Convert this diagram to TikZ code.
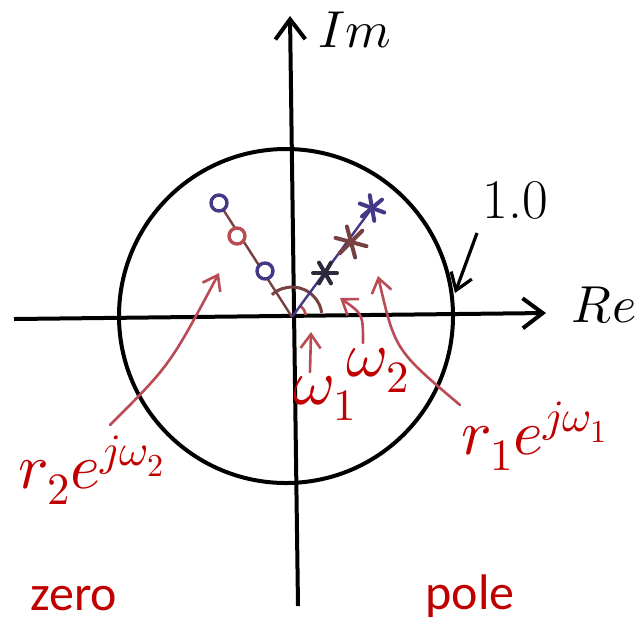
\documentclass[tikz,border=0pt]{standalone}
\usepackage{unicode-math}
\newfontfamily\labelfont{Carlito}
\usepackage{tikz}
\usetikzlibrary{arrows.meta,calc}

\definecolor{labelred}{RGB}{192,0,0}
\definecolor{penred}{RGB}{185,75,85}
\definecolor{penblue}{RGB}{70,55,135}
\definecolor{penbrown}{RGB}{120,65,65}
\definecolor{pendark}{RGB}{45,40,60}

% asterisk-like pole mark: centre, half size, colour, angles
\newcommand{\polestar}[4]{%
  \foreach \a in {#4}
    \draw[#3, line width=2pt, line cap=round] ($(#1)+(\a:#2)$) -- ($(#1)+(\a+180:#2)$);}

\begin{document}
\begin{tikzpicture}[x=0.5pt, y=-0.5pt, >={Straight Barb[length=10pt,width=15pt]},
  axis/.style={line width=2pt, ->},
  pointer/.style={line width=1.3pt, penred, line cap=round, -{Straight Barb[length=7pt,width=10pt]}},
  bigtext/.style={font=\fontsize{26}{30}\selectfont},
  redlabel/.style={text=labelred, inner sep=1pt, font=\fontsize{32}{36}\selectfont},
  wordlabel/.style={text=labelred, inner sep=1pt, font=\labelfont\fontsize{25}{30}\selectfont},
  zeromark/.style={circle, draw, line width=1.7pt, inner sep=0pt, minimum size=8pt, fill=white}]
\useasboundingbox (0,0) rectangle (635,623);
\coordinate (O) at (292,317);
\coordinate (C) at (286,316);
% axes and unit circle
\draw[axis] (14,319) -- (546,313);
\draw[axis] (298,606) -- (290,16);
\draw[line width=2pt] (C) circle [radius=83.5pt];
\node[bigtext] (im) at (355,30) {$Im$};
\node[bigtext] (re) at (604,305) {$Re$};
\node[bigtext, font=\fontsize{28}{32}\selectfont] (unit) at (515,200) {1.0};
\coordinate (unittail) at (477,233);
\coordinate (unithead) at (455,293);
\draw[line width=1.6pt, ->, >={Straight Barb[length=8pt,width=11pt]}] (unittail) -- (unithead);
% angle arcs (y axis points down, so polar offsets are mirrored)
\draw[penbrown, line width=1.5pt] ($(O)+(-132:30)$) arc[start angle=132, end angle=8, radius=15pt];
\draw[penred, line width=1.3pt] ($(O)+(-8:14)$) arc[start angle=8, end angle=50, radius=7pt];
% zeros
\draw[penbrown, line width=1.2pt] (O) -- (219,203);
\node[zeromark, draw=penblue] (z1) at (219,203) {};
\node[zeromark, draw=penred] (z2) at (237,236) {};
\node[zeromark, draw=penblue] (z3) at (265,271) {};
% poles
\coordinate (pa) at (325,273);
\coordinate (pb) at (351,242);
\coordinate (pc) at (372,208);
\draw[penblue, line width=1.2pt] (O) -- (pc);
\polestar{pa}{12}{pendark}{0,60,120}
\polestar{pb}{16}{penbrown}{15,75,135}
\polestar{pc}{13}{penblue}{20,80,140}
% labels and pointers
\node[redlabel] (w1) at (325,398) {$\omega_1$};
\node[redlabel] (w2) at (378,370) {$\omega_2$};
\node[redlabel] (r1) at (535,436) {$r_1e^{j\omega_1}$};
\node[redlabel] (r2) at (92,470) {$r_2e^{j\omega_2}$};
\node[wordlabel] (zero) at (74,599) {zero};
\node[wordlabel] (pole) at (470,596) {pole};
\coordinate (w1tail) at (310,372);
\coordinate (w1head) at (311,332);
\coordinate (w2tail) at (363,343);
\coordinate (w2head) at (340,298);
\coordinate (r1tail) at (460,405);
\coordinate (r1head) at (378,276);
\coordinate (r2tail) at (110,425);
\coordinate (r2head) at (219,273);
\draw[pointer] (w1tail) -- (w1head);
\draw[pointer] (w2tail) .. controls (363,314) .. (w2head);
\draw[pointer] (r1tail) .. controls (395,350) .. (r1head);
\draw[pointer] (r2tail) .. controls (170,365) .. (r2head);
\end{tikzpicture}
\end{document}
